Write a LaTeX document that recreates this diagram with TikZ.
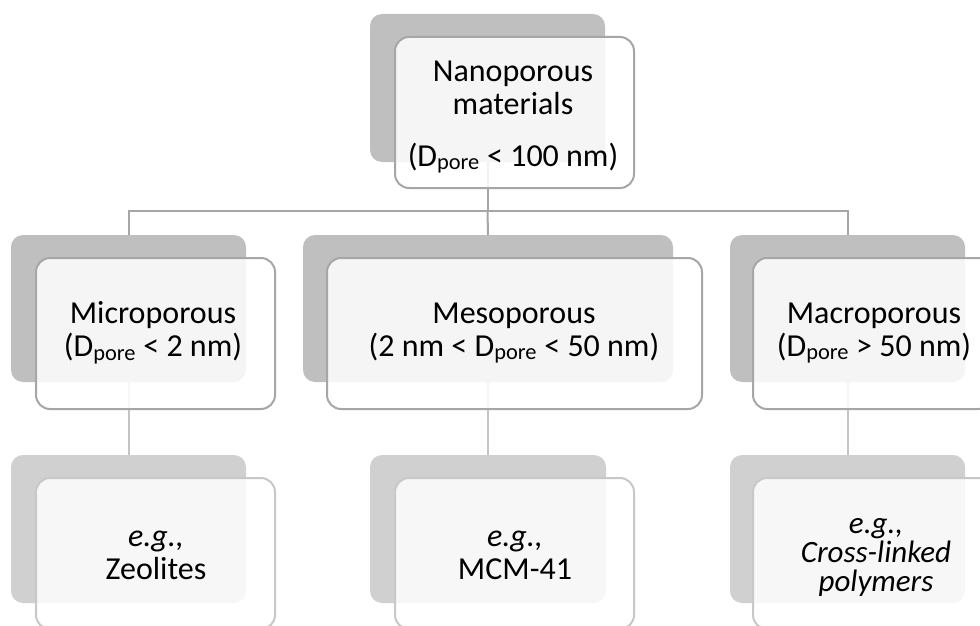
\documentclass[tikz,border=0pt]{standalone}
\usepackage{fontspec}
\setmainfont{Carlito}
\definecolor{shadeA}{HTML}{BFBFBF}
\definecolor{shadeB}{HTML}{D0D0D0}
\definecolor{edgeA}{HTML}{A6A6A6}
\definecolor{edgeB}{HTML}{C8C8C8}
\definecolor{lineA}{HTML}{A6A6A6}
\definecolor{lineB}{HTML}{C4C4C4}
\begin{document}
\begin{tikzpicture}[x=1pt,y=-1pt,
  backbox/.style={fill=#1, draw=none, rounded corners=12pt, inner sep=0pt, outer sep=0pt},
  frontbox/.style={draw=#1, line width=2pt, fill=white, fill opacity=0.85, rounded corners=14pt, inner sep=0pt, outer sep=0pt, minimum width=239pt, minimum height=151pt},
  conn/.style={draw=#1, line width=2pt},
  txt/.style={align=center, inner sep=0pt, font=\fontsize{32}{33}\selectfont, text=black}
]
\useasboundingbox (0,0) rectangle (980,626);
\clip (0,0) rectangle (980,626);
\fill[white] (0,0) rectangle (980,626);

% back boxes
\node[backbox=shadeA, minimum width=235pt, minimum height=148pt] (topB) at (487.5,88) {};
\node[backbox=shadeA, minimum width=235pt, minimum height=147pt] (micB) at (128.5,308.5) {};
\node[backbox=shadeA, minimum width=370pt, minimum height=147pt] (mesB) at (488,308.5) {};
\node[backbox=shadeA, minimum width=235pt, minimum height=147pt] (macB) at (847.5,308.5) {};
\node[backbox=shadeB, minimum width=235pt, minimum height=148pt] (zeoB) at (128.5,529) {};
\node[backbox=shadeB, minimum width=236pt, minimum height=148pt] (mcmB) at (488,529) {};
\node[backbox=shadeB, minimum width=235pt, minimum height=148pt] (crsB) at (847.5,529) {};

% connectors
\coordinate (hub) at (487.5,211);
\draw[conn=lineA] (topB.south) -- (hub);
\draw[conn=lineA] (hub) -| (micB.north);
\draw[conn=lineA] (hub) -| (macB.north);
\draw[conn=lineA] (hub) -- (mesB.north);
\draw[conn=lineB] (micB.south) -- (zeoB.north);
\draw[conn=lineB] (mesB.south) -- (mcmB.north);
\draw[conn=lineB] (macB.south) -- (crsB.north);

% front boxes
\node[frontbox=edgeA] (topF) at (514.5,112.5) {};
\node[frontbox=edgeA] (micF) at (155.5,333.5) {};
\node[frontbox=edgeA, minimum width=375pt] (mesF) at (514.5,333.5) {};
\node[frontbox=edgeA] (macF) at (872.5,333.5) {};
\node[frontbox=edgeB] (zeoF) at (155.5,553.5) {};
\node[frontbox=edgeB] (mcmF) at (514.5,553.5) {};
\node[frontbox=edgeB] (crsF) at (872.5,553.5) {};

% texts
\node[txt] (topT) at (513,117) {Nanoporous\\materials\\[19pt](D\textsubscript{pore} < 100 nm)};
\node[txt] (micT) at (153,333) {Microporous\\(D\textsubscript{pore} < 2 nm)};
\node[txt] (mesT) at (514,333) {Mesoporous\\(2 nm < D\textsubscript{pore} < 50 nm)};
\node[txt] (macT) at (874,333) {Macroporous\\(D\textsubscript{pore} > 50 nm)};
\node[txt] (zeoT) at (156,555.5) {\textit{e.g.,}\\Zeolites};
\node[txt] (mcmT) at (515,555.5) {\textit{e.g.,}\\MCM-41};
\node[txt, font=\fontsize{31}{29}\selectfont\itshape] (crsT) at (876,557.5) {e.g.,\\Cross-linked\\polymers};
\end{tikzpicture}
\end{document}
